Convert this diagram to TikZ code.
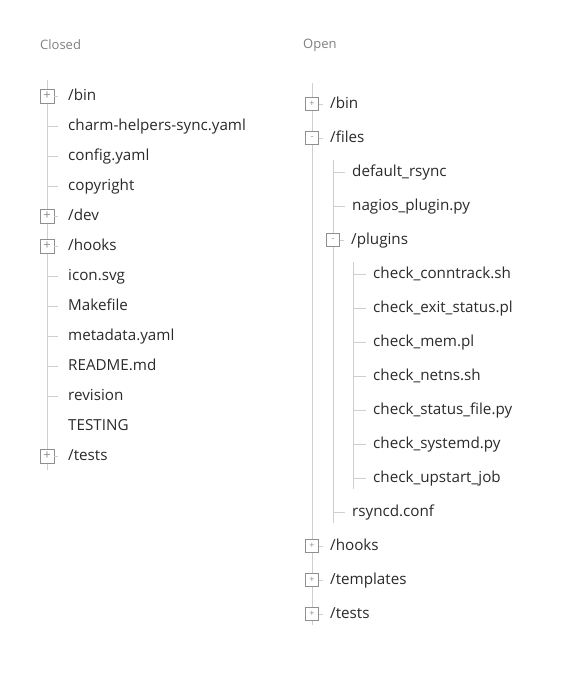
\documentclass[tikz,border=0pt]{standalone}
\usepackage{fontspec}
\setmainfont{Open Sans}
\usepackage{xcolor}
\usepackage{tikz}
\usetikzlibrary{positioning}
\definecolor{treeline}{HTML}{CFCFCF}
\definecolor{boxline}{HTML}{8F8F8F}
\definecolor{filetext}{HTML}{2A2A2A}
\definecolor{captiontext}{HTML}{808080}

\begin{document}
\begin{tikzpicture}[
  x=1pt, y=-1pt,
  caption/.style={anchor=west, inner sep=0, text=captiontext,
    font=\fontsize{13}{13}\selectfont},
  item/.style={anchor=west, inner ysep=0, text=filetext,
    text height=11pt, text depth=3pt, font=\fontsize{15.2}{15.2}\selectfont},
  litem/.style={item, inner xsep=10pt},
  ritem/.style={item, inner xsep=7pt},
  toggle/.style={rectangle, draw=boxline, fill=white, inner sep=0,
    text=boxline, line width=0.8pt},
  ltoggle/.style={toggle, minimum size=14pt, font=\fontsize{13}{13}\selectfont},
  rtoggle/.style={toggle, minimum size=13pt, font=\fontsize{9}{9}\selectfont},
  tree/.style={draw=treeline, line width=1pt}
]
  \useasboundingbox (0,0) rectangle (588,675);

  % Closed tree
  \node[caption] (closed) at (40,45) {Closed};
  \coordinate (ltop) at (47,80);
  \coordinate (lbot) at (47,470);
  \draw[tree] (ltop) -- (lbot);

  \node[ltoggle] (lbinbox) at (47,96) {+};
  \node[litem] (lbin) at (58,96) {/bin};
  \draw[tree] (lbinbox) -- (lbin);
  \node[litem] (lcharm) at (58,126) {charm-helpers-sync.yaml};
  \draw[tree] (ltop |- lcharm) -- (lcharm);
  \node[litem] (lconfig) at (58,156) {config.yaml};
  \draw[tree] (ltop |- lconfig) -- (lconfig);
  \node[litem] (lcopy) at (58,186) {copyright};
  \draw[tree] (ltop |- lcopy) -- (lcopy);
  \node[ltoggle] (ldevbox) at (47,216) {+};
  \node[litem] (ldev) at (58,216) {/dev};
  \draw[tree] (ldevbox) -- (ldev);
  \node[ltoggle] (lhooksbox) at (47,246) {+};
  \node[litem] (lhooks) at (58,246) {/hooks};
  \draw[tree] (lhooksbox) -- (lhooks);
  \node[litem] (licon) at (58,276) {icon.svg};
  \draw[tree] (ltop |- licon) -- (licon);
  \node[litem] (lmake) at (58,306) {Makefile};
  \draw[tree] (ltop |- lmake) -- (lmake);
  \node[litem] (lmeta) at (58,336) {metadata.yaml};
  \draw[tree] (ltop |- lmeta) -- (lmeta);
  \node[litem] (lreadme) at (58,366) {README.md};
  \draw[tree] (ltop |- lreadme) -- (lreadme);
  \node[litem] (lrev) at (58,396) {revision};
  \draw[tree] (ltop |- lrev) -- (lrev);
  \node[litem] (ltesting) at (58,426) {TESTING};
  \node[ltoggle] (ltestsbox) at (47,456) {+};
  \node[litem] (ltests) at (58,456) {/tests};
  \draw[tree] (ltestsbox) -- (ltests);

  % Open tree
  \node[caption] (open) at (303,45) {Open};
  \coordinate (rtop) at (312,83);
  \coordinate (rbot) at (312,625);
  \coordinate (ftop) at (333,160);
  \coordinate (fbot) at (333,523);
  \coordinate (ptop) at (353,262);
  \coordinate (pbot) at (353,489);
  \draw[tree] (rtop) -- (rbot);
  \draw[tree] (ftop) -- (fbot);
  \draw[tree] (ptop) -- (pbot);

  \node[rtoggle] (rbinbox) at (312,104) {+};
  \node[ritem] (rbin) at (323,104) {/bin};
  \draw[tree] (rbinbox) -- (rbin);
  \node[rtoggle] (rfilesbox) at (312,138) {-};
  \node[ritem] (rfiles) at (323,138) {/files};
  \draw[tree] (rfilesbox) -- (rfiles);
  \node[ritem] (rdefault) at (345,172) {default\_rsync};
  \draw[tree] (ftop |- rdefault) -- (rdefault);
  \node[ritem] (rnagios) at (345,206) {nagios\_plugin.py};
  \draw[tree] (ftop |- rnagios) -- (rnagios);
  \node[rtoggle] (rpluginsbox) at (333,240) {-};
  \node[ritem] (rplugins) at (344,240) {/plugins};
  \draw[tree] (rpluginsbox) -- (rplugins);
  \node[ritem] (rconntrack) at (366,274) {check\_conntrack.sh};
  \draw[tree] (ptop |- rconntrack) -- (rconntrack);
  \node[ritem] (rexit) at (366,308) {check\_exit\_status.pl};
  \draw[tree] (ptop |- rexit) -- (rexit);
  \node[ritem] (rmem) at (366,342) {check\_mem.pl};
  \draw[tree] (ptop |- rmem) -- (rmem);
  \node[ritem] (rnetns) at (366,376) {check\_netns.sh};
  \draw[tree] (ptop |- rnetns) -- (rnetns);
  \node[ritem] (rstatus) at (366,410) {check\_status\_file.py};
  \draw[tree] (ptop |- rstatus) -- (rstatus);
  \node[ritem] (rsystemd) at (366,444) {check\_systemd.py};
  \draw[tree] (ptop |- rsystemd) -- (rsystemd);
  \node[ritem] (rupstart) at (366,478) {check\_upstart\_job};
  \draw[tree] (ptop |- rupstart) -- (rupstart);
  \node[ritem] (rrsyncd) at (345,512) {rsyncd.conf};
  \draw[tree] (ftop |- rrsyncd) -- (rrsyncd);
  \node[rtoggle] (rhooksbox) at (312,546) {+};
  \node[ritem] (rhooks) at (323,546) {/hooks};
  \draw[tree] (rhooksbox) -- (rhooks);
  \node[rtoggle] (rtemplatesbox) at (312,580) {+};
  \node[ritem] (rtemplates) at (323,580) {/templates};
  \draw[tree] (rtemplatesbox) -- (rtemplates);
  \node[rtoggle] (rtestsbox) at (312,614) {+};
  \node[ritem] (rtests) at (323,614) {/tests};
  \draw[tree] (rtestsbox) -- (rtests);
\end{tikzpicture}
\end{document}
